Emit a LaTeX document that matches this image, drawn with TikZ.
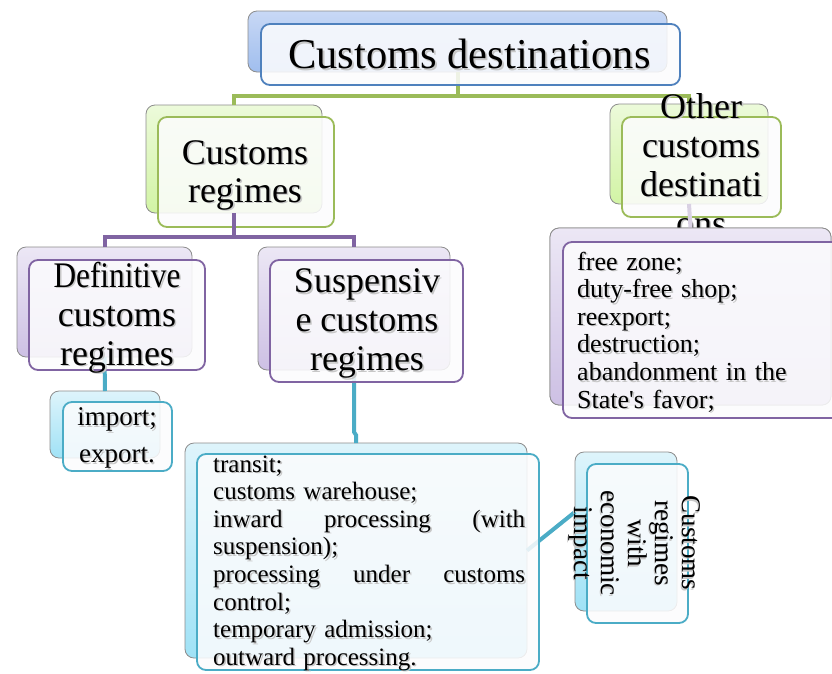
\documentclass[tikz,border=0pt]{standalone}
\usepackage{fontspec}
\usepackage{graphicx}
\setmainfont{Liberation Serif}
\definecolor{cBlue}{RGB}{79,129,189}
\definecolor{cGreen}{RGB}{155,187,89}
\definecolor{cPurple}{RGB}{128,100,162}
\definecolor{cTeal}{RGB}{75,172,198}
\definecolor{blueT}{RGB}{200,216,245}
\definecolor{blueB}{RGB}{160,190,238}
\definecolor{greenT}{RGB}{236,250,218}
\definecolor{greenB}{RGB}{210,244,165}
\definecolor{purpleT}{RGB}{236,231,245}
\definecolor{purpleB}{RGB}{205,192,228}
\definecolor{tealT}{RGB}{222,244,251}
\definecolor{tealB}{RGB}{160,226,246}
\definecolor{bkgray}{RGB}{140,140,140}
\definecolor{frontfill}{RGB}{252,252,253}
\newcommand\shtext[4]{%
  \node[#1, text=black!22, xshift=1.6pt, yshift=-1.6pt] at (#3) {#4};
  \node[#1] (#2) at (#3) {#4};}
\begin{document}
\begin{tikzpicture}[x=1pt,y=-1pt,
  box/.style={rectangle, rounded corners=9pt, inner sep=0pt, outer sep=0pt},
  backbox/.style={box, draw=bkgray, line width=0.8pt},
  frontbox/.style={box, line width=1.8pt, fill=frontfill, fill opacity=0.86},
  bluebk/.style={backbox, top color=blueT, bottom color=blueB},
  greenbk/.style={backbox, top color=greenT, bottom color=greenB},
  purplebk/.style={backbox, top color=purpleT, bottom color=purpleB},
  tealbk/.style={backbox, top color=tealT, bottom color=tealB},
  txt/.style={inner sep=0pt, align=center, text=black},
  listtxt/.style={inner sep=0pt, anchor=base west, align=left, text=black},
  conn/.style={line width=4pt},
  ]
\useasboundingbox (0,0) rectangle (832,673);
\clip (0,0) rectangle (832,673);
\fill[white] (0,0) rectangle (832,673);

% coordinates of buses
\coordinate (gbus) at (0,96);
\coordinate (pbus) at (0,237);

% back shapes (named first for connectors)
\node[bluebk, minimum width=419pt, minimum height=61pt] (topB) at (457.5,41.5) {};
\node[greenbk, minimum width=176pt, minimum height=108pt] (crB) at (234,159) {};
\node[greenbk, minimum width=158pt, minimum height=100pt] (otB) at (689,154) {};

% connectors
\draw[conn, cGreen] (crB.north) |- (topB.south |- gbus) -| (otB.north);
\draw[conn, cGreen] (topB.south) -- (topB.south |- gbus);

% top box
\node[frontbox, draw=cBlue, minimum width=419pt, minimum height=61pt] (topF) at (470.5,54.5) {};
\shtext{txt, font=\fontsize{42.5}{44}\selectfont}{topT}{469.5,54}{Customs destinations}

% customs regimes
\node[frontbox, draw=cGreen, minimum width=176pt, minimum height=110pt] (crF) at (246,172) {};
\shtext{txt, font=\fontsize{36}{38}\selectfont}{crT}{245,175}{Customs\\regimes}

% other customs destinations
\node[frontbox, draw=cGreen, minimum width=159pt, minimum height=100pt] (otF) at (701.5,167) {};
\shtext{txt, font=\fontsize{36}{39}\selectfont}{otT}{701,164.5}{Other\\customs\\destinati\\ons}

% purple level
\node[purplebk, minimum width=175pt, minimum height=110pt] (defB) at (104.5,302) {};
\node[purplebk, minimum width=192pt, minimum height=123pt] (susB) at (354,308.5) {};
\node[purplebk, minimum width=281pt, minimum height=177pt] (olB) at (690.5,316.5) {};

\draw[conn, cPurple] (defB.north) |- (crB.south |- pbus) -| (susB.north);
\draw[conn, cPurple] (crB.south) -- (crB.south |- pbus);
\draw[conn, cPurple!30] (otB.south) -- (olB.north);

% teal level back shapes
\node[tealbk, minimum width=110pt, minimum height=67pt] (impB) at (105,424.5) {};
\node[tealbk, minimum width=342pt, minimum height=215pt] (slB) at (356,550.5) {};
\node[tealbk, minimum width=102pt, minimum height=159pt] (ecoB) at (626,531.5) {};

\draw[conn, cTeal] (defB.south) -- (impB.north);
\draw[conn, cTeal] (susB.south) -- ++(0,62) -- ++(2,3) -- (slB.north);
\draw[conn, cTeal] (slB.east) -- (ecoB.159);

% other destinations list (back redrawn above its connector)
\node[purplebk, minimum width=281pt, minimum height=177pt] at (690.5,316.5) {};
\node[frontbox, draw=cPurple, minimum width=281pt, minimum height=176pt] (olF) at (703.5,330) {};
\shtext{listtxt, text width=262pt, font=\fontsize{26}{27.6}\selectfont}{olT}{577,270}
  {free zone;\\ duty-free shop;\\ reexport;\\ destruction;\\ abandonment in the\\ State\textquotesingle s favor;}

\node[frontbox, draw=cPurple, minimum width=176pt, minimum height=110pt] (defF) at (117,315) {};
\shtext{txt, font=\fontsize{36}{39}\selectfont}{defT}{117,317.5}{\scalebox{0.87}[1]{Definitive}\\customs\\regimes}

\node[frontbox, draw=cPurple, minimum width=193pt, minimum height=122pt] (susF) at (366.5,321) {};
\shtext{txt, font=\fontsize{36}{39}\selectfont}{susT}{367,323.5}{Suspensiv\\e customs\\regimes}

\node[frontbox, draw=cTeal, minimum width=109pt, minimum height=69pt] (impF) at (117.5,436.5) {};
\shtext{txt, font=\fontsize{27}{37}\selectfont}{impT}{117,438}{import;\\export.}

\node[frontbox, draw=cTeal, minimum width=342pt, minimum height=216pt] (slF) at (368,562) {};
\shtext{listtxt, text width=312pt, font=\fontsize{25}{27.6}\selectfont}{slT}{213,472}
  {transit;\\ customs warehouse;\\ \makebox[312pt][l]{inward\hfill processing\hfill (with}\\ suspension);\\ \makebox[312pt][l]{processing\hfill under\hfill customs}\\ control;\\ temporary admission;\\ outward processing.}

\node[frontbox, draw=cTeal, minimum width=101pt, minimum height=159pt] (ecoF) at (637.5,543.5) {};
\shtext{txt, rotate=-90, font=\fontsize{27}{27}\selectfont}{ecoT}{635,543}{Customs\\regimes\\with\\economic\\impact}
\end{tikzpicture}
\end{document}
